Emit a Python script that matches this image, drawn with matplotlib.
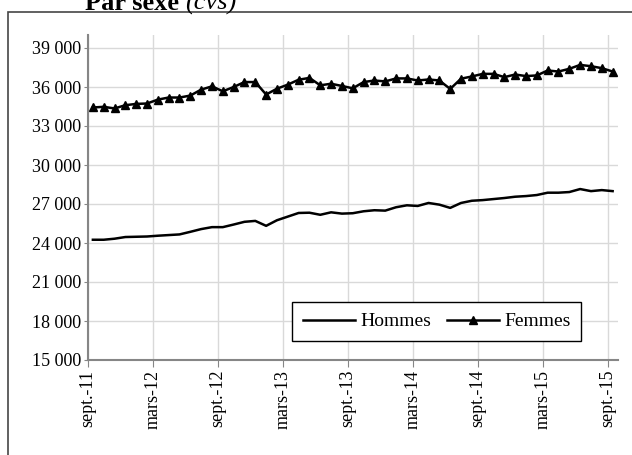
import numpy as np
import matplotlib
matplotlib.use('Agg')
import matplotlib.pyplot as plt
from matplotlib.patches import Rectangle

plt.rcParams['font.family'] = ['Liberation Serif', 'DejaVu Serif']

# monthly values, sept-11 .. sept-15
hommes = [24250, 24250, 24330, 24460, 24480, 24500, 24560, 24610, 24660, 24860,
          25070, 25220, 25220, 25420, 25630, 25700, 25320, 25750, 26030, 26310,
          26330, 26170, 26360, 26260, 26290, 26440, 26520, 26490, 26750, 26900,
          26850, 27080, 26950, 26700, 27080, 27250, 27300, 27380, 27460, 27560,
          27610, 27690, 27870, 27870, 27920, 28150, 27990, 28070, 27990]
femmes = [34425, 34475, 34350, 34600, 34700, 34730, 35030, 35190, 35190, 35340,
          35800, 36050, 35670, 36000, 36380, 36380, 35420, 35870, 36180, 36560,
          36700, 36130, 36250, 36080, 35900, 36380, 36500, 36430, 36660, 36660,
          36500, 36580, 36500, 35850, 36640, 36810, 37010, 37010, 36760, 36960,
          36840, 36890, 37270, 37190, 37400, 37700, 37600, 37450, 37190]
tick_labels = ['sept.-11', 'mars-12', 'sept.-12', 'mars-13', 'sept.-13',
               'mars-14', 'sept.-14', 'mars-15', 'sept.-15']
y_ticks = [15000, 18000, 21000, 24000, 27000, 30000, 33000, 36000, 39000]

W, H = 632, 455
fig = plt.figure(figsize=(W / 100, H / 100), dpi=100)

# outer chart frame (only top and left edges visible)
fig.patches.append(Rectangle((8 / W, -0.1), 1.0, (H - 11.7) / H + 0.1,
                             transform=fig.transFigure, fill=False,
                             edgecolor='#454545', linewidth=1.2))

# title, mostly cut off at the top (as in the source)
fig.text(85 / W, 1 - 10 / H, 'Par sexe', fontsize=19, fontweight='bold',
         va='baseline', ha='left')
fig.text(185 / W, 1 - 10 / H, '(cvs)', fontsize=19, fontstyle='italic',
         va='baseline', ha='left')

ax = fig.add_axes([88 / W, (H - 360) / H, (617.5 - 88) / W, (360 - 35) / H])

x = np.arange(len(hommes)) + 0.45
ax.plot(x, hommes, color='black', linewidth=1.8, label='Hommes')
ax.plot(x, femmes, color='black', linewidth=1.8, marker='^', markersize=5.5,
        label='Femmes')

ax.set_xlim(0, 48.9)
ax.set_ylim(15000, 40000)
ax.set_xticks(np.arange(0, 49, 6))
ax.set_xticklabels(tick_labels, rotation=90, fontsize=13)
ax.set_yticks(y_ticks)
ax.set_yticklabels([f'{v:,}'.replace(',', ' ') for v in y_ticks], fontsize=13)

ax.grid(True, color='#d9d9d9', linewidth=1)
ax.set_axisbelow(True)
for s in ['top', 'right']:
    ax.spines[s].set_visible(False)
for s in ['left', 'bottom']:
    ax.spines[s].set_color('#868686')
    ax.spines[s].set_linewidth(1.5)
ax.tick_params(axis='x', direction='out', length=5, color='#868686', pad=2)
ax.tick_params(axis='y', direction='out', length=3, color='#868686', pad=2)

leg = ax.legend(loc='lower right', bbox_to_anchor=(0.931, 0.058), ncol=2,
                fontsize=14, frameon=True, fancybox=False, framealpha=1,
                edgecolor='black', handlelength=2.7, handletextpad=0.25,
                columnspacing=0.8, borderpad=0.55, borderaxespad=0)
leg.get_frame().set_linewidth(1)

fig.savefig('out.png', dpi=100)
